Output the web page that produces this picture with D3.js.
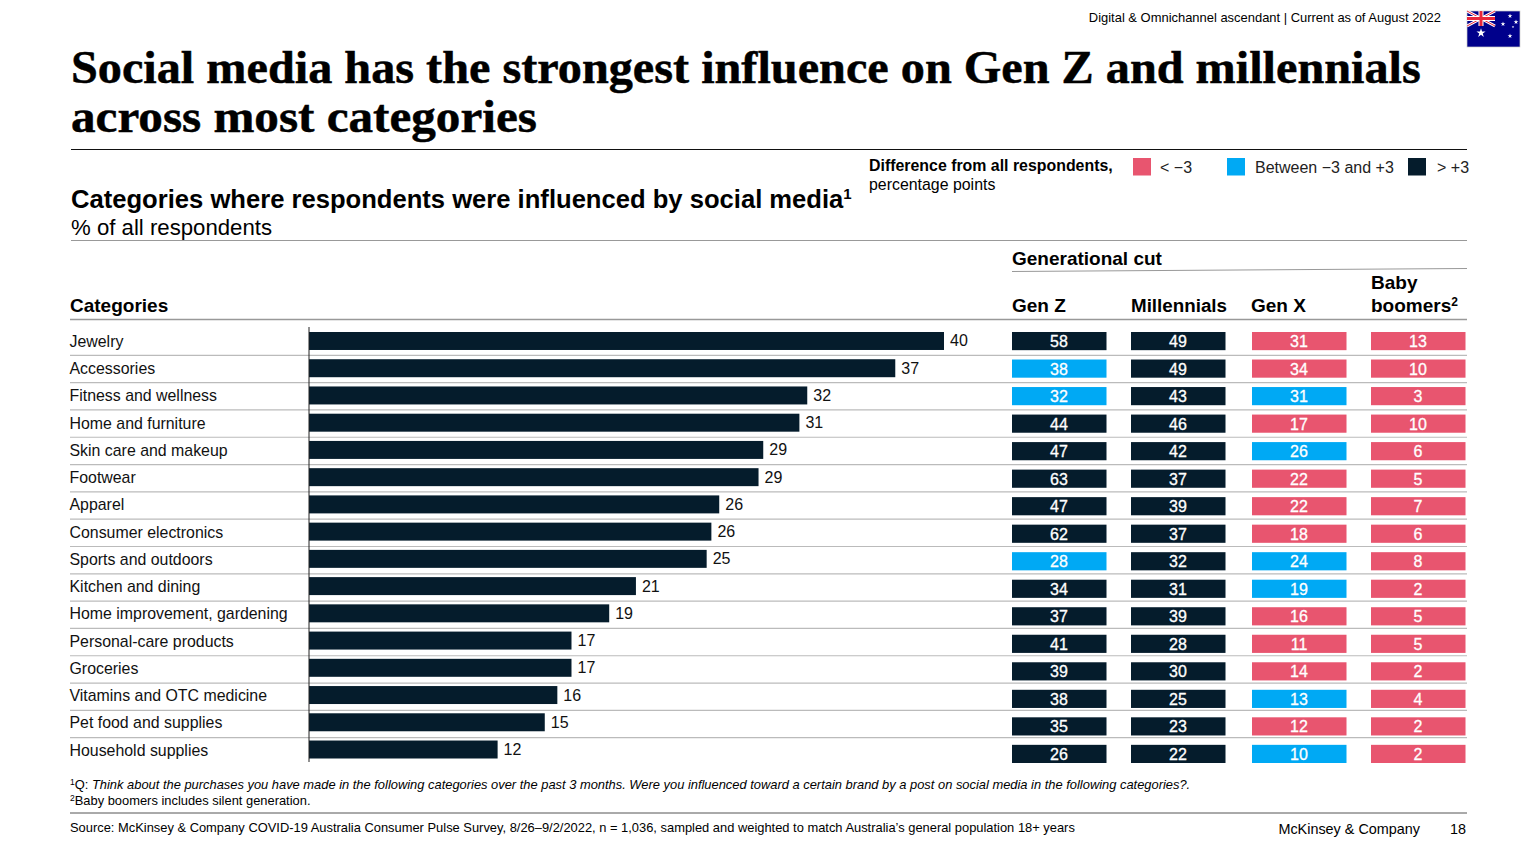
<!DOCTYPE html>
<html>
<head>
<meta charset="utf-8">
<style>
  html, body { margin: 0; padding: 0; background: #fff; }
  svg { display: block; }
  text { font-family: "Liberation Sans", Arial, sans-serif; fill: #000; }
</style>
</head>
<body>
<svg id="chart" width="1536" height="864"></svg>
<script src="https://cdn.jsdelivr.net/npm/d3@7"></script>
<script>
const categories = ["Jewelry", "Accessories", "Fitness and wellness", "Home and furniture",
  "Skin care and makeup", "Footwear", "Apparel", "Consumer electronics", "Sports and outdoors",
  "Kitchen and dining", "Home improvement, gardening", "Personal-care products", "Groceries",
  "Vitamins and OTC medicine", "Pet food and supplies", "Household supplies"];

// overall share, unrounded; labels round them
const overall = [40.4, 37.3, 31.7, 31.2, 28.9, 28.6, 26.1, 25.6, 25.3, 20.8, 19.1, 16.7, 16.7, 15.8, 15.0, 12.0];

const generations = ["Gen Z", "Millennials", "Gen X", "Baby boomers"];
const genZ = [58, 38, 32, 44, 47, 63, 47, 62, 28, 34, 37, 41, 39, 38, 35, 26];
const millennials = [49, 49, 43, 46, 42, 37, 39, 37, 32, 31, 39, 28, 30, 25, 23, 22];
const genX = [31, 34, 31, 17, 26, 22, 22, 18, 24, 19, 16, 11, 14, 13, 12, 10];
const boomers = [13, 10, 3, 10, 6, 5, 7, 6, 8, 2, 5, 5, 2, 4, 2, 2];

// difference band per cell: L = below -3, M = between, H = above +3
const genZBands = "HMMHHHHHMHHHHHHH".split("");
const millennialBands = "HHHHHHHHHHHHHHHH".split("");
const genXBands = "LLMLMLLLMMLLLMLM".split("");
const boomerBands = "LLLLLLLLLLLLLLLL".split("");

const bandKeys = ["L", "M", "H"];
const bandLabels = ["< \u22123", "Between \u22123 and +3", "> +3"];
const bandColors = ["#e8556f", "#00a9f4", "#051c2c"];

const svg = d3.select("#chart");
const color = d3.scaleOrdinal().domain(bandKeys).range(bandColors);

function label(x, y, str, size, opts = {}) {
  return svg.append("text")
    .attr("x", x).attr("y", y)
    .attr("font-size", size)
    .attr("font-weight", opts.bold ? 700 : 400)
    .attr("font-style", opts.italic ? "italic" : null)
    .attr("text-anchor", opts.anchor || "start")
    .text(str);
}

function rule(x1, y1, x2, y2, stroke, w) {
  svg.append("line")
    .attr("x1", x1).attr("y1", y1).attr("x2", x2).attr("y2", y2)
    .attr("stroke", stroke).attr("stroke-width", w);
}

// serif title line, stretched sideways to the reference's wider face
function titleLine(y, str, width) {
  const t = svg.append("text")
    .attr("font-size", 46)
    .attr("font-weight", 700)
    .attr("stroke", "#000")
    .attr("stroke-width", 0.5)
    .style("font-family", "'Liberation Serif', serif")
    .text(str);
  const k = width / t.node().getComputedTextLength();
  t.attr("transform", `translate(71,${y}) scale(${k},1)`);
}

// header
label(1441, 22, "Digital & Omnichannel ascendant | Current as of August 2022", 12.95, {anchor: "end"});
titleLine(83, "Social media has the strongest influence on Gen Z and millennials", 1350);
titleLine(132, "across most categories", 466);
rule(71, 149.5, 1467, 149.5, "#111", 1);

// flag
const flag = svg.append("g").attr("transform", "translate(1467,11)");
flag.append("rect").attr("width", 53).attr("height", 36).attr("fill", "#00008b").attr("stroke", "#ccc").attr("stroke-width", 0.7);
flag.append("path").attr("d", "M0,0L28,15M28,0L0,15").attr("stroke", "#fff").attr("stroke-width", 3);
flag.append("path").attr("d", "M0,0L28,15M28,0L0,15").attr("stroke", "#e8263a").attr("stroke-width", 1);
flag.append("path").attr("d", "M14,0V15M0,7.5H28").attr("stroke", "#fff").attr("stroke-width", 5);
flag.append("path").attr("d", "M14,0V15M0,7.5H28").attr("stroke", "#e8263a").attr("stroke-width", 3);
const flagStars = [[14, 22, 26], [43, 5, 7], [36, 13, 7], [43, 25, 7], [49, 11, 7], [46, 16, 2]];
flag.selectAll("path.star").data(flagStars).join("path")
  .attr("class", "star")
  .attr("transform", d => `translate(${d[0]},${d[1]})`)
  .attr("d", d => d3.symbol(d3.symbolStar, d[2])())
  .attr("fill", "#fff");

// legend
label(869, 171, "Difference from all respondents,", 15.9, {bold: true});
label(869, 190, "percentage points", 15.9);
const legendSwatchX = [1133, 1227, 1408];
const legend = svg.selectAll("g.legend").data(bandKeys).join("g")
  .attr("class", "legend")
  .attr("transform", (d, i) => `translate(${legendSwatchX[i]},158)`);
legend.append("rect").attr("width", 18).attr("height", 17.5).attr("fill", d => color(d));
legend.append("text").attr("x", (d, i) => i == 2 ? 29 : i == 1 ? 28 : 27).attr("y", 14.5).attr("font-size", 16)
  .style("fill", "#222").text((d, i) => bandLabels[i]);

// subtitle
const sub = label(71, 208, "Categories where respondents were influenced by social media", 25.6, {bold: true});
sub.append("tspan").attr("font-size", 15).attr("dy", -9).text("1");
label(71, 235, "% of all respondents", 22.2);
rule(71, 240.5, 1467, 240.5, "#999", 1);

// column heads
const colX = [1012, 1131, 1252, 1371];
label(1012, 265, "Generational cut", 19, {bold: true});
rule(1012, 271.5, 1467, 268.5, "#999", 1);
label(70, 312, "Categories", 19, {bold: true});
label(colX[0], 312, "Gen Z", 19, {bold: true});
label(colX[1], 312, "Millennials", 18.8, {bold: true});
label(colX[2] - 1, 312, "Gen X", 19, {bold: true});
label(colX[3], 289, "Baby", 19, {bold: true});
const boom = label(colX[3], 312, "boomers", 19, {bold: true});
boom.append("tspan").attr("font-size", 12).attr("dy", -6).text("2");
rule(70, 319.5, 1467, 319.5, "#999", 1.6);

// rows
const yRows = d3.scaleBand().domain(categories).range([328, 765]);
const yBars = d3.scaleBand().domain(categories).range([332, 758.5]).paddingInner(0.34);
const yCells = d3.scaleBand().domain(categories).range([332, 763]).paddingInner(0.34);
const x = d3.scaleLinear().domain([0, 40.4]).range([309, 944]);

categories.slice(1).forEach(c => {
  rule(70, yRows(c), 1467, yRows(c), "#bbb", 1.2);
});

svg.selectAll("text.cat").data(categories).join("text")
  .attr("class", "cat")
  .attr("x", 69.5)
  .attr("y", d => yBars(d) + yBars.bandwidth() / 2 + 6)
  .attr("font-size", 15.9)
  .style("fill", "#111")
  .text(d => d);

svg.selectAll("rect.bar").data(categories).join("rect")
  .attr("class", "bar")
  .attr("x", x(0))
  .attr("y", d => yBars(d))
  .attr("width", (d, i) => x(overall[i]) - x(0))
  .attr("height", yBars.bandwidth())
  .attr("fill", bandColors[2]);

svg.selectAll("text.val").data(categories).join("text")
  .attr("class", "val")
  .attr("x", (d, i) => x(overall[i]) + 6)
  .attr("y", d => yBars(d) + yBars.bandwidth() / 2 + 5.5)
  .attr("font-size", 16)
  .style("fill", "#111")
  .text((d, i) => d3.format(".0f")(overall[i]));

rule(309, 327, 309, 762, "#222", 1);

// generational cells
const genSeries = [genZ, millennials, genX, boomers];
const genBands = [genZBands, millennialBands, genXBands, boomerBands];
const xCols = d3.scaleOrdinal().domain(generations).range(colX);

generations.forEach((g, gi) => {
  const col = svg.append("g").attr("class", "col");
  col.selectAll("rect").data(categories).join("rect")
    .attr("x", xCols(g))
    .attr("y", d => yCells(d))
    .attr("width", 94.5)
    .attr("height", yCells.bandwidth())
    .attr("fill", (d, i) => color(genBands[gi][i]));
  col.selectAll("text").data(categories).join("text")
    .attr("x", xCols(g) + 47)
    .attr("y", d => yCells(d) + yCells.bandwidth() / 2 + 6)
    .attr("text-anchor", "middle")
    .attr("font-size", 16)
    .attr("stroke", "#fff")
    .attr("stroke-width", 0.3)
    .style("fill", "#fff")
    .text((d, i) => genSeries[gi][i]);
});

// footnotes
const fn1 = label(70, 789, "", 12.9);
fn1.append("tspan").attr("font-size", 8.5).attr("dy", -4).text("1");
fn1.append("tspan").attr("dy", 4).text("Q: ");
fn1.append("tspan").attr("font-style", "italic")
  .text("Think about the purchases you have made in the following categories over the past 3 months. Were you influenced toward a certain brand by a post on social media in the following categories?.");
const fn2 = label(70, 805, "", 12.9);
fn2.append("tspan").attr("font-size", 8.5).attr("dy", -4).text("2");
fn2.append("tspan").attr("dy", 4).text("Baby boomers includes silent generation.");
rule(70, 813, 1467, 813, "#555", 1);
label(70, 831.5, "Source: McKinsey & Company COVID-19 Australia Consumer Pulse Survey, 8/26\u20139/2/2022, n = 1,036, sampled and weighted to match Australia\u2019s general population 18+ years", 12.9);
label(1420, 834, "McKinsey & Company", 14.4, {anchor: "end"});
label(1466, 834, "18", 14.4, {anchor: "end"});
</script>
</body>
</html>
